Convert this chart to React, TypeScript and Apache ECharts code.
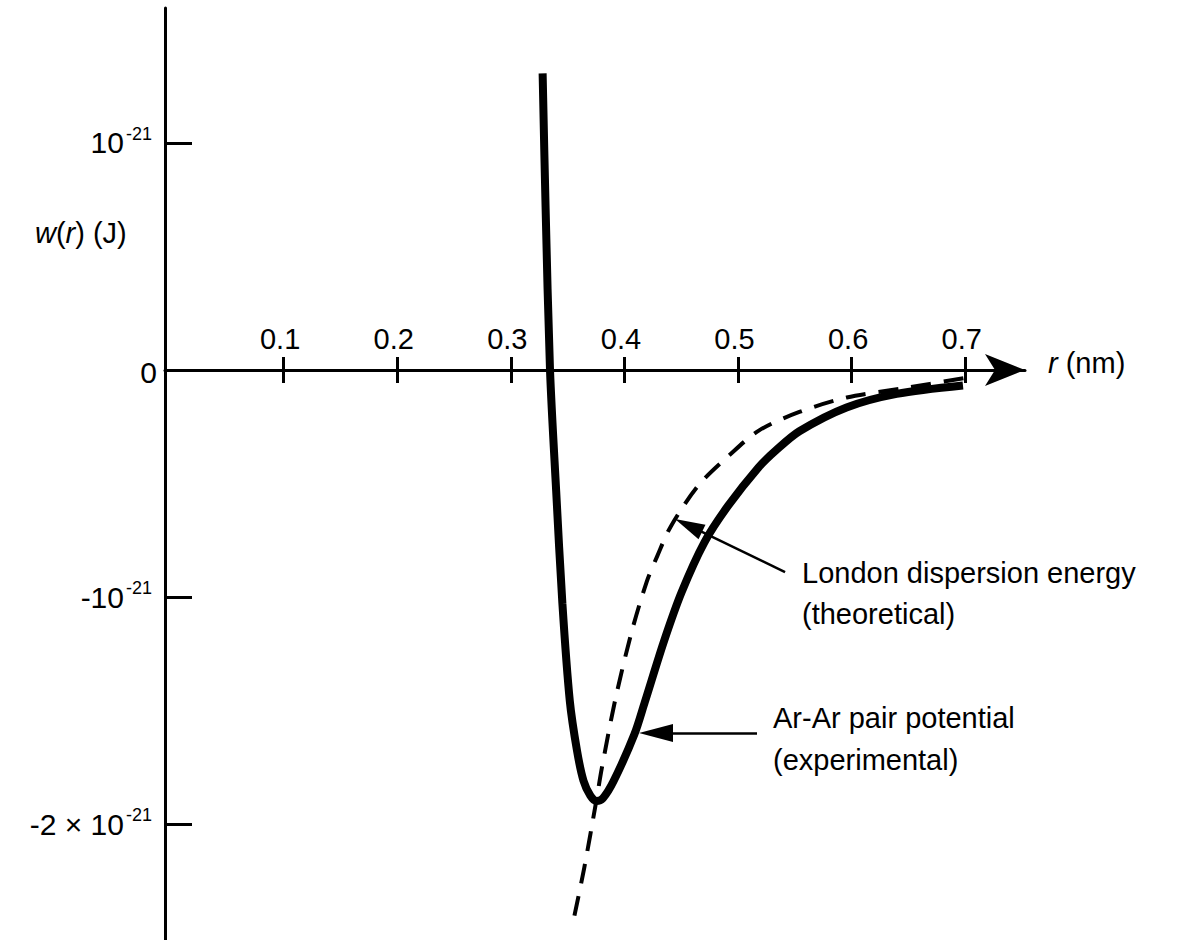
import React, { useEffect, useRef } from "react";
import * as echarts from "echarts";

// Ar-Ar pair potential (experimental): r in nm, w in units of 1e-21 J
const rPair = [0.328, 0.3306, 0.3345, 0.3399, 0.3454, 0.3519, 0.3583, 0.364, 0.37, 0.3752, 0.381, 0.3904, 0.4087, 0.418, 0.4346, 0.4503, 0.4703, 0.491, 0.5179, 0.5332, 0.554, 0.5955, 0.6396, 0.698];
const wPair = [1.307, 0.717, 0, -0.531, -1.029, -1.457, -1.678, -1.81, -1.875, -1.899, -1.887, -1.812, -1.606, -1.462, -1.198, -0.979, -0.76, -0.6, -0.43, -0.355, -0.27, -0.165, -0.105, -0.068];

// London dispersion energy (theoretical)
const rLondon = [0.356, 0.3646, 0.3752, 0.3801, 0.3916, 0.4057, 0.4196, 0.4289, 0.4407, 0.465, 0.4918, 0.5186, 0.554, 0.5957, 0.645, 0.7];
const wLondon = [-2.404, -2.194, -1.899, -1.754, -1.46, -1.166, -0.933, -0.82, -0.69, -0.509, -0.378, -0.266, -0.185, -0.121, -0.081, -0.035];

// axes
const xTickValues = [0.1, 0.2, 0.3, 0.4, 0.5, 0.6, 0.7];
const xTickLabels = ["0.1", "0.2", "0.3", "0.4", "0.5", "0.6", "0.7"];
const yTickValues = [-2, -1, 0, 1];
const yTickMantissa = ["-2 × 10", "-10", "0", "10"];
const yTickExponent = ["-21", "-21", "", "-21"];
const xAxisName = ["r", " (nm)"];
const yAxisName = ["w", "(", "r", ") (J)"];

// annotations
const londonText = ["London dispersion energy", "(theoretical)"];
const pairText = ["Ar-Ar pair potential", "(experimental)"];
const londonArrowFrom = [0.5414, -0.89];
const londonArrowTo = [0.4564, -0.685];
const pairArrowFrom = [0.5167, -1.599];
const pairArrowTo = [0.4278, -1.599];

const X_MIN = -0.0044;
const X_MAX = 0.7526;
const Y_MIN = -2.511;
const Y_MAX = 1.5947;

const FONT = '"Liberation Sans", Arial, Helvetica, sans-serif';

export default function App() {
  const ref = useRef<HTMLDivElement>(null);

  useEffect(() => {
    if (!ref.current) return;
    const chart = echarts.init(ref.current, null, { renderer: "svg" });

    const tickStyle = { color: "#000", width: 3 };
    const GRID_LEFT = 165;
    const GRID_RIGHT = 1194 - 1025;

    const option: any = {
      animation: false,
      backgroundColor: "#ffffff",
      grid: [
        // data area: whole vertical extent of the w axis
        { left: GRID_LEFT, right: GRID_RIGHT, top: 8, bottom: 0, containLabel: false, outerBoundsMode: "none" },
        // upper part, whose bottom edge is the w = 0 line, carries the visible r axis
        { left: GRID_LEFT, right: GRID_RIGHT, top: 8, height: 362, containLabel: false, outerBoundsMode: "none" },
      ],
      xAxis: [
        {
          type: "value",
          gridIndex: 0,
          min: X_MIN,
          max: X_MAX,
          show: false,
          splitLine: { show: false },
        },
        {
          type: "value",
          gridIndex: 1,
          position: "bottom",
          min: X_MIN,
          max: X_MAX,
          axisLine: {
            show: true,
            onZero: false,
            symbol: ["none", "arrow"],
            symbolSize: [24, 40],
            lineStyle: { color: "#000", width: 3 },
          },
          axisTick: { show: true, inside: false, length: 13, customValues: xTickValues, lineStyle: tickStyle },
          axisLabel: {
            show: true,
            inside: true,
            customValues: xTickValues,
            margin: 17,
            fontSize: 29,
            fontFamily: FONT,
            color: "#000",
            padding: [0, 7, 0, 0],
            formatter: (v: number) => {
              const i = xTickValues.findIndex((t) => Math.abs(t - v) < 1e-6);
              return i >= 0 ? xTickLabels[i] : "";
            },
          },
          splitLine: { show: false },
          name: "{i|" + xAxisName[0] + "}{n|" + xAxisName[1] + "}",
          nameLocation: "end",
          nameGap: 23,
          nameTextStyle: {
            fontSize: 29,
            fontFamily: FONT,
            color: "#000",
            padding: [0, 0, 14, 0],
            rich: {
              i: { fontStyle: "italic", fontSize: 29, fontFamily: FONT, color: "#000" },
              n: { fontSize: 29, fontFamily: FONT, color: "#000" },
            },
          },
        },
        {
          type: "value",
          gridIndex: 1,
          position: "bottom",
          min: X_MIN,
          max: X_MAX,
          axisLine: { show: false, onZero: false },
          axisTick: { show: true, inside: true, length: 13, customValues: xTickValues, lineStyle: tickStyle },
          axisLabel: { show: false },
          splitLine: { show: false },
        },
      ],
      yAxis: [
        {
          type: "value",
          gridIndex: 0,
          position: "left",
          min: Y_MIN,
          max: Y_MAX,
          axisLine: { show: true, onZero: false, lineStyle: { color: "#000", width: 3 } },
          axisTick: { show: true, inside: true, length: 27, customValues: [-2, -1, 1], lineStyle: tickStyle },
          axisLabel: {
            show: true,
            customValues: yTickValues,
            margin: 6,
            formatter: (v: number) => {
              const i = yTickValues.findIndex((t) => Math.abs(t - v) < 1e-6);
              if (i < 0) return "";
              if (!yTickExponent[i]) return "{z|" + yTickMantissa[i] + "}";
              return "{b|" + yTickMantissa[i] + "}{s|" + yTickExponent[i] + "}";
            },
            rich: {
              b: { fontSize: 30, fontFamily: FONT, color: "#000", lineHeight: 40 },
              s: { fontSize: 18, fontFamily: FONT, color: "#000", lineHeight: 18, verticalAlign: "top", padding: [2, 7, 0, 2] },
              z: { fontSize: 30, fontFamily: FONT, color: "#000", lineHeight: 34, padding: [6, 2, 0, 0] },
            },
          },
          splitLine: { show: false },
        },
        {
          type: "value",
          gridIndex: 1,
          min: 0,
          max: Y_MAX,
          show: false,
          splitLine: { show: false },
        },
      ],
      series: [
        {
          name: "Ar-Ar pair potential (experimental)",
          type: "line",
          xAxisIndex: 0,
          yAxisIndex: 0,
          data: rPair.map((r, i) => [r, wPair[i]]),
          symbol: "none",
          showSymbol: false,
          smooth: 0.3,
          lineStyle: { color: "#000", width: 8 },
          z: 3,
          markLine: {
            silent: true,
            symbol: ["none", "triangle"],
            label: { show: false },
            lineStyle: { color: "#000", width: 2.5, type: "solid" },
            emphasis: { disabled: true },
            data: [
              [
                { coord: londonArrowFrom, symbol: "none" },
                { coord: londonArrowTo, symbol: "triangle", symbolSize: [16, 30] },
              ],
              [
                { coord: pairArrowFrom, symbol: "none" },
                { coord: pairArrowTo, symbol: "triangle", symbolSize: [18, 34] },
              ],
            ],
          },
        },
        {
          name: "London dispersion energy (theoretical)",
          type: "line",
          xAxisIndex: 0,
          yAxisIndex: 0,
          data: rLondon.map((r, i) => [r, wLondon[i]]),
          symbol: "none",
          showSymbol: false,
          smooth: 0.3,
          lineStyle: { color: "#000", width: 4, type: [20, 13] },
          z: 2,
        },
      ],
      graphic: [
        {
          type: "text",
          x: 35,
          y: 233,
          style: {
            text: "{i|" + yAxisName[0] + "}{n|" + yAxisName[1] + "}{i|" + yAxisName[2] + "}{n|" + yAxisName[3] + "}",
            fontSize: 29,
            fontFamily: FONT,
            fill: "#000",
            verticalAlign: "middle",
            textVerticalAlign: "middle",
            rich: {
              i: { fontStyle: "italic", fontSize: 29, fontFamily: FONT, fill: "#000", color: "#000" },
              n: { fontSize: 29, fontFamily: FONT, fill: "#000", color: "#000" },
            },
          },
        },
        ...londonText.map((t, i) => ({
          type: "text",
          x: 802,
          y: 573 + i * 41,
          style: { text: t, fontSize: 29, fontFamily: FONT, fill: "#000", verticalAlign: "middle", textVerticalAlign: "middle" },
        })),
        ...pairText.map((t, i) => ({
          type: "text",
          x: 773,
          y: 718 + i * 42,
          style: { text: t, fontSize: 29, fontFamily: FONT, fill: "#000", verticalAlign: "middle", textVerticalAlign: "middle" },
        })),
      ],
    };

    chart.setOption(option);
    return () => {
      chart.dispose();
    };
  }, []);

  return (
    <div
      ref={ref}
      style={{ position: "fixed", left: 0, top: 0, width: 1194, height: 940, background: "#fff" }}
    />
  );
}
